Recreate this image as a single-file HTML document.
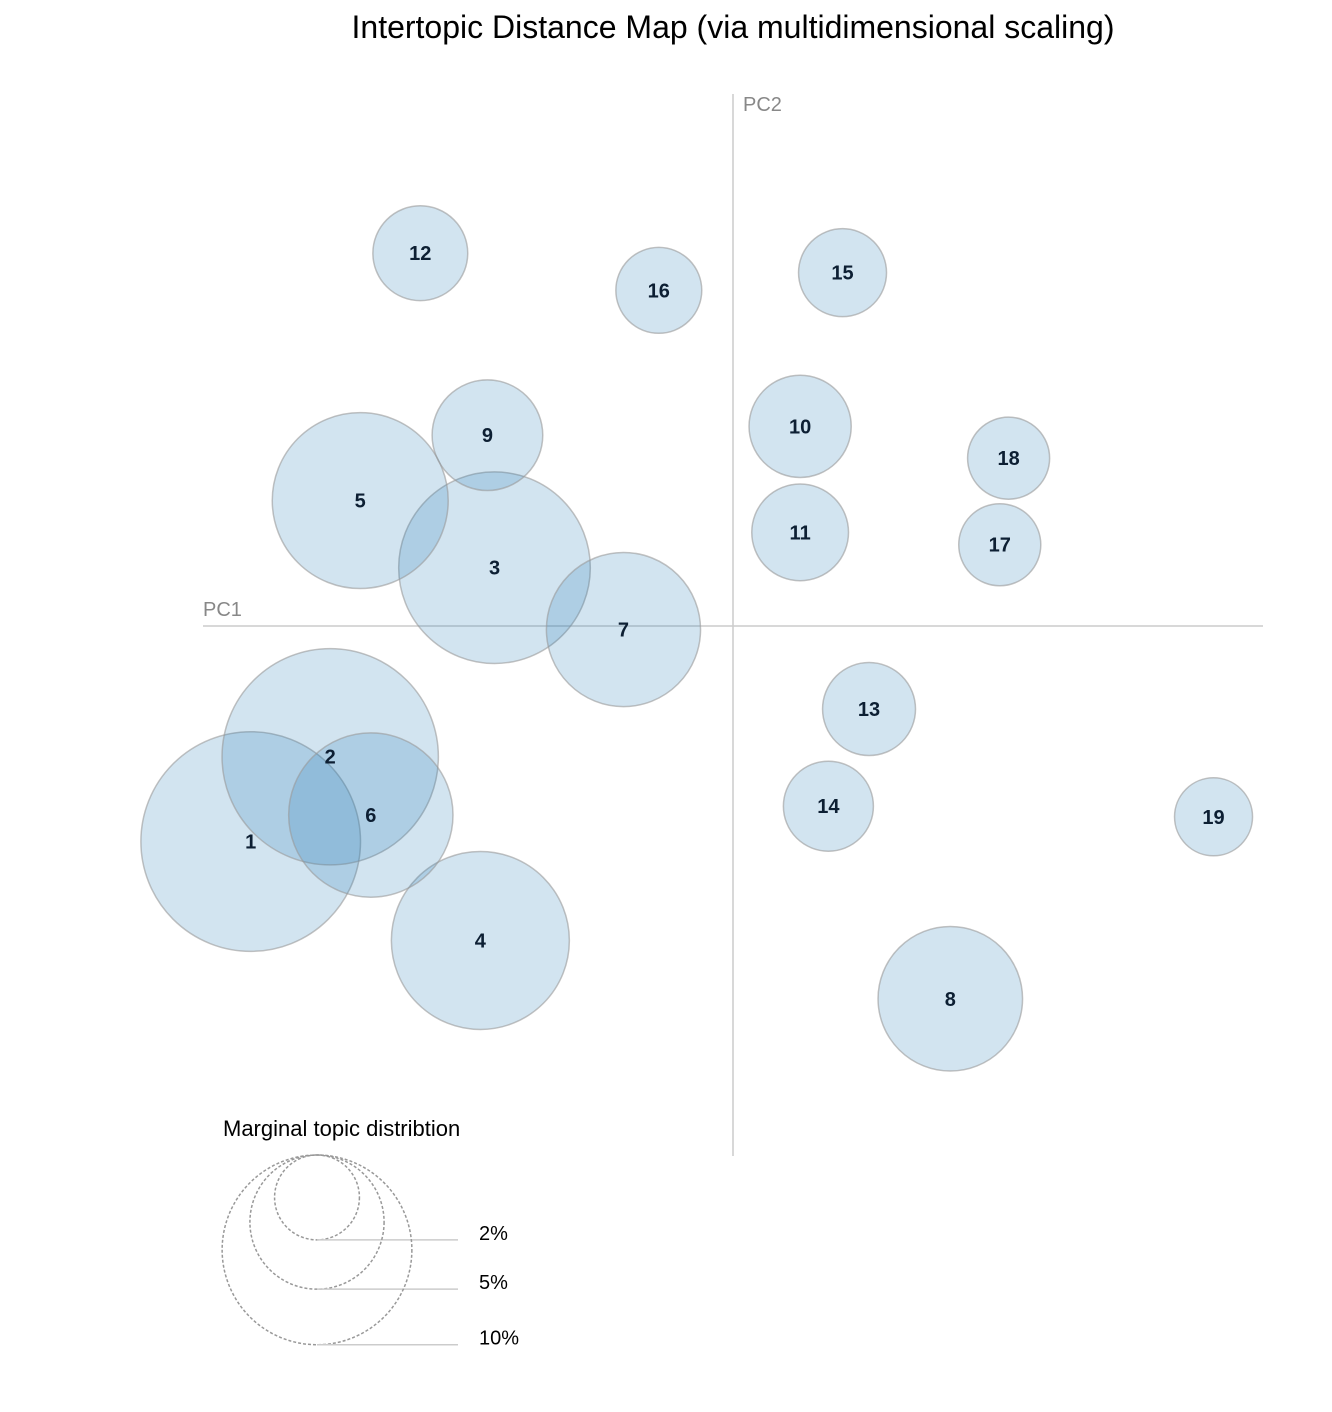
<!DOCTYPE html>
<html><head><meta charset="utf-8"><style>
body{margin:0;background:#fff;}
svg{display:block;font-family:"Liberation Sans",sans-serif;}
</style></head><body>
<svg id="chart" width="1332" height="1412" viewBox="0 0 1332 1412">
<text x="733" y="38" text-anchor="middle" font-size="32" fill="#000">Intertopic Distance Map (via multidimensional scaling)</text>
<g id="axes"></g>
<g id="bubbles"></g>
<g id="legend"></g>
</svg>
<script>
const topics = ["1","2","3","4","5","6","7","8","9","10","11","12","13","14","15","16","17","18","19"];
const pc1 = [-0.273,-0.228,-0.135,-0.143,-0.211,-0.205,-0.062,0.123,-0.139,0.038,0.038,-0.177,0.077,0.054,0.062,-0.042,0.151,0.156,0.272];
const pc2 = [-0.122,-0.074,0.033,-0.178,0.071,-0.107,-0.002,-0.211,0.108,0.113,0.053,0.211,-0.047,-0.102,0.200,0.190,0.046,0.095,-0.108];
const share = [13.4,13.0,10.2,8.8,8.6,7.5,6.6,5.8,3.4,2.9,2.6,2.5,2.4,2.25,2.15,2.05,1.87,1.87,1.69];
const legendPcts = [2,5,10];
const legendLabels = ["2%","5%","10%"];

const NS="http://www.w3.org/2000/svg";
const xS = v => 733 + (v/0.3)*530;
const yS = v => 626 - (v/0.3)*530;
const rS = p => 30*Math.sqrt(p);
function mk(tag, attrs, parent){const e=document.createElementNS(NS,tag);for(const k in attrs)e.setAttribute(k,attrs[k]);parent.appendChild(e);return e;}

const axes=document.getElementById('axes');
let e=mk('line',{x1:xS(-0.3),x2:xS(0.3),y1:yS(0),y2:yS(0),stroke:'#ccc','stroke-width':1.5},axes);


e=mk('line',{x1:xS(0),x2:xS(0),y1:yS(0.3)-2,y2:yS(-0.3),stroke:'#ccc','stroke-width':1.5},axes);


e=mk('text',{x:xS(-0.3),y:yS(0)-10,'font-size':20,fill:'#888'},axes);e.textContent='PC1';


e=mk('text',{x:xS(0)+10,y:yS(0.3)+15,'font-size':20,fill:'#888'},axes);e.textContent='PC2';



const bub=document.getElementById('bubbles');
topics.forEach((t,i)=>{
  const c=mk('circle',{cx:xS(pc1[i]),cy:yS(pc2[i]),r:rS(share[i]),fill:'#1f77b4','fill-opacity':0.2,stroke:'#999','stroke-opacity':0.6,'stroke-width':1.5},bub);
  
  
});
topics.forEach((t,i)=>{
  const l=mk('text',{x:xS(pc1[i]),y:yS(pc2[i])+7,'text-anchor':'middle','font-size':20,'font-weight':'bold',fill:'#0d1f33'},bub);
  l.textContent=t;
  
  
});

const leg=document.getElementById('legend');
e=mk('text',{x:223,y:1136,'font-size':22,fill:'#000'},leg);e.textContent='Marginal topic distribtion';


const lcx=317, ltop=1155;
legendPcts.forEach((p,i)=>{
  const r=rS(p);
  const c=mk('circle',{cx:lcx,cy:ltop+r,r:r,fill:'none',stroke:'#999','stroke-dasharray':'3 2','stroke-width':1.5},leg);
  
  
  const ln=mk('line',{x1:lcx,x2:458,y1:ltop+2*r,y2:ltop+2*r,stroke:'#ccc','stroke-width':1.5},leg);
  
  
  const tx=mk('text',{x:479,y:ltop+2*r,'font-size':20,fill:'#000'},leg);
  tx.textContent=legendLabels[i];
  
  
});
</script>
</body></html>
